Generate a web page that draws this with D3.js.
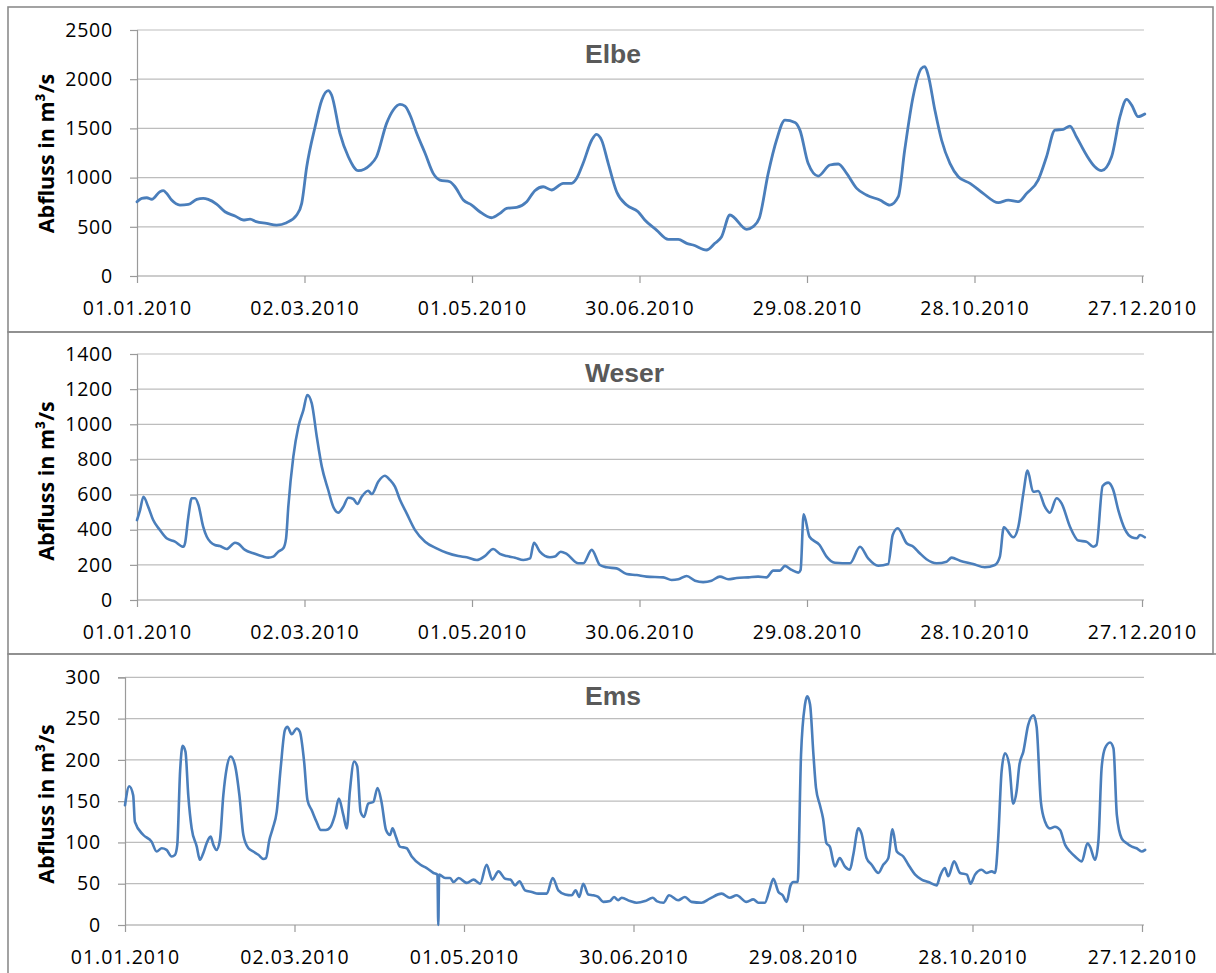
<!DOCTYPE html>
<html><head><meta charset="utf-8">
<script src="https://cdn.jsdelivr.net/npm/d3@7"></script>
<style>
html,body{margin:0;padding:0;background:#fff;}
</style></head>
<body>
<svg id="c" width="1216" height="973"></svg>
<script>
// ---------- DATA (day index from 01.01.2010, discharge in m³/s) ----------
const xTickDays = [0, 60, 120, 180, 240, 300, 360];
const xTickLabels = ["01.01.2010","02.03.2010","01.05.2010","30.06.2010","29.08.2010","28.10.2010","27.12.2010"];
const elbeTicks = [0, 500, 1000, 1500, 2000, 2500];
const weserTicks = [0, 200, 400, 600, 800, 1000, 1200, 1400];
const emsTicks = [0, 50, 100, 150, 200, 250, 300];
const riverNames = ["Elbe", "Weser", "Ems"];
const yAxisTitle = "Abfluss in m³/s";

const elbe = [[0,755],[1.7,790],[3.5,795],[5.3,780],[8.2,857],[9.4,867],[10.6,840],[12.4,772],[15.4,721],[18.4,728],[21.4,779],[23.7,789],[25.5,779],[28.5,731],[31.5,653],[35.1,610],[38.1,569],[40.5,579],[42.7,552],[46.4,535],[50,518],[53.6,542],[57.2,620],[59,738],[60.8,1110],[63.8,1517],[66.2,1788],[68.5,1883],[69.7,1839],[72.7,1450],[75.7,1212],[79.3,1070],[83.5,1128],[85.8,1212],[89.4,1551],[91.8,1687],[94.2,1744],[96,1727],[97.8,1636],[100.2,1450],[103.2,1247],[106.1,1043],[108.5,975],[112.1,958],[113.9,907],[116.9,772],[119.9,721],[122.8,653],[127,592],[130,637],[132.4,688],[136,698],[139.6,755],[142.5,867],[145.5,907],[148.5,874],[152.7,942],[155.7,942],[157.5,993],[159.8,1145],[162.9,1382],[164.6,1440],[166.4,1382],[168.8,1145],[171.8,857],[175.4,721],[179.5,653],[181.9,569],[186.1,467],[190.3,373],[193.9,373],[196.9,332],[199.2,315],[204,264],[207,332],[209.4,399],[212.4,620],[218.4,474],[220.7,501],[222.9,586],[226.1,1043],[229.1,1382],[232.1,1585],[235.7,1561],[237.5,1480],[240.4,1145],[244,1016],[248.2,1128],[251.2,1138],[254.2,1043],[257.8,891],[261.3,823],[266.1,772],[269.7,721],[272.7,806],[275,1280],[278,1822],[281,2110],[282.2,2127],[283.4,2042],[285.8,1687],[288.2,1382],[291.2,1145],[294.2,1009],[298.4,942],[303.1,840],[308.5,745],[312.1,772],[315.7,755],[318.7,840],[322.8,975],[325.8,1212],[328.8,1483],[331.8,1490],[334.2,1524],[336.5,1415],[340.1,1229],[343.1,1110],[345.5,1070],[349.1,1212],[352.1,1619],[354.5,1795],[356.3,1737],[358.6,1619],[361,1646]];

const weser = [[0,455],[1.1,512],[2.3,588],[4,531],[5.8,455],[8.2,398],[10.6,351],[13.6,332],[16.6,303],[17.2,323],[18.4,474],[19.6,579],[20.8,579],[22,541],[23.7,417],[25,360],[27.9,313],[29.7,307],[32.1,290],[35.1,326],[36.3,320],[38.7,285],[41.7,266],[45.2,247],[47,241],[48.8,247],[50.6,275],[52.4,294],[53.4,351],[54.2,531],[56,816],[57.8,986],[59.6,1081],[61,1167],[62.6,1119],[64.4,929],[66.2,759],[68.5,626],[70.3,531],[72.1,497],[73.9,531],[75.7,582],[77.5,575],[78.9,546],[80.5,588],[82.8,622],[84.1,603],[86.4,673],[88.8,707],[90.6,683],[92.4,645],[94.2,570],[96.6,493],[99.6,398],[103.2,332],[107.3,294],[110.9,269],[115.1,250],[118.1,243],[121.7,228],[124.6,250],[127.6,290],[130,262],[132.4,250],[135.4,241],[138.4,228],[140.8,237],[142.2,326],[144.3,275],[147.9,243],[149.7,247],[151.8,275],[153.9,262],[158.1,209],[159.9,209],[162.9,285],[165.8,199],[168.2,186],[171.8,180],[175.4,148],[179,142],[182.5,133],[188.5,129],[191.5,114],[193.9,118],[196.9,137],[199.9,110],[202.8,102],[205.8,110],[208.8,133],[211.8,118],[214.8,125],[219,129],[222.5,133],[225.5,129],[227.9,167],[230.3,167],[232.1,194],[234.5,171],[236.9,156],[237.7,171],[238.8,488],[240.9,360],[244.5,313],[247,247],[250,212],[255.4,209],[259,303],[261.9,237],[265.5,195],[269.1,205],[270.7,370],[272.5,408],[275.7,323],[278.1,303],[280.4,266],[282.8,232],[286.4,209],[290,218],[291.8,241],[294.8,224],[299.5,205],[303.7,186],[307.3,199],[309.1,247],[310.5,414],[313.9,357],[315.7,417],[317.5,607],[319,736],[321,616],[322.8,620],[325.2,531],[327,497],[329.4,579],[331.2,550],[334.2,417],[337.2,338],[340.1,332],[342.5,303],[343.7,313],[345.9,649],[347.9,668],[349.7,626],[351.5,512],[353.9,402],[356.3,357],[358.1,351],[359.3,370],[361,357]];

const ems = [[0,145],[1.5,168],[2.9,157],[3.5,125],[6.5,109],[9.4,101],[11.2,89],[13,93],[14.7,91],[16.5,83],[17.7,85],[18.5,97],[19.5,186],[20.4,217],[21.4,210],[22.4,157],[23.6,117],[25.4,95],[26.5,79],[27.7,87],[28.9,99],[30.3,107],[31.3,97],[32.4,91],[33.6,103],[34.8,157],[36,190],[37.4,204],[38.9,194],[40.5,157],[41.9,109],[43.7,93],[45.4,89],[47.2,85],[49,80],[49.9,81],[51.1,103],[52.3,117],[53.7,137],[55.1,190],[56.6,236],[57.5,240],[59,231],[60.8,238],[61.9,234],[63.4,198],[64.6,151],[66.1,139],[67.8,125],[69.3,115],[71.1,115],[72.8,119],[74.3,133],[75.7,153],[77.3,133],[78.5,117],[79.6,162],[81.1,198],[82.2,192],[83.4,137],[84.6,131],[86.1,147],[87.9,149],[89.4,166],[90.8,149],[92.4,115],[93.8,109],[94.7,117],[95.9,107],[97.3,95],[99.7,93],[101.5,83],[104.6,73],[106.8,69],[109.2,63],[110.6,61],[110.9,0],[111.2,61],[113.3,57],[115.1,57],[116.3,52],[118.1,57],[121,51],[123.4,55],[125.7,50],[128,73],[130,55],[132.2,65],[134.6,56],[136.4,55],[138.1,48],[139.6,53],[141.6,42],[144,40],[146.3,38],[149.3,38],[151.4,57],[153.4,42],[155.8,37],[158.1,36],[159.5,42],[160.8,34],[162.2,50],[164,37],[165.8,36],[167.5,34],[169.3,28],[171.7,29],[173.1,34],[174.6,30],[175.8,33],[178.8,29],[181.1,27],[184.1,29],[186.8,33],[188.2,29],[190.6,27],[192.6,36],[195.8,30],[198.2,34],[200.5,28],[204.1,27],[207,32],[211.2,38],[214.1,33],[216.5,36],[220,28],[222.4,31],[224.2,27],[226.5,27],[228.1,42],[229.5,56],[231.3,40],[232.8,36],[234.2,28],[235.6,48],[236.6,52],[238.1,52],[239.3,206],[240.7,267],[241.5,277],[242.5,267],[243.7,206],[244.6,166],[246,145],[247.1,129],[248.3,99],[249.5,95],[251.3,71],[253,81],[254.8,71],[256.6,67],[257.8,85],[259.6,117],[260.7,111],[262.5,81],[264.3,73],[266.7,63],[268.4,73],[270.2,81],[271.7,116],[273.2,89],[275.5,83],[277.3,73],[279.7,61],[282,55],[284.4,52],[287.3,48],[288.5,59],[290.2,69],[291.4,59],[293.5,77],[295.6,63],[298,61],[299.3,50],[300.9,61],[303.2,67],[305,63],[306.8,65],[308,63],[309.1,105],[310.3,186],[311.5,208],[313,194],[314.4,147],[315.6,162],[316.6,194],[318,210],[319.7,242],[321.6,254],[322.7,240],[324.2,149],[325.7,125],[327.4,117],[329.2,119],[331,115],[332.8,97],[334.5,89],[336.3,83],[338.7,77],[340.7,99],[341.6,95],[343.4,79],[344.6,103],[345.7,190],[346.9,214],[348.7,221],[349.9,214],[351.1,133],[352.8,105],[354.6,99],[356.4,95],[358.1,93],[359.9,89],[361.1,91]];

// ---------- LAYOUT ----------
const panels = [
  {name: riverNames[0], data: elbe,  ticks: elbeTicks,  box:[8,7,1213,332],   left:137, top:30,    bottom:276, titleY:62.5, labelY:153.5, lw:2.8},
  {name: riverNames[1], data: weser, ticks: weserTicks, box:[8,332,1213,654], left:137, top:354,   bottom:600, titleY:382,  labelY:481,   lw:2.6},
  {name: riverNames[2], data: ems,   ticks: emsTicks,   box:[8,654,1230,990], left:125, top:677.3, bottom:925, titleY:705,  labelY:804,   lw:2.6}
];
const xRight = 1142;   // position of the last tick (day 360)
const plotEndDay = 360.7;

const svg = d3.select("#c");
svg.append("rect").attr("width",1216).attr("height",973).attr("fill","#fff");

const tickFont = "'Open Sans', sans-serif";

panels.forEach(p => {
  const g = svg.append("g");
  // panel border
  g.append("rect")
    .attr("x", p.box[0]).attr("y", p.box[1])
    .attr("width", p.box[2]-p.box[0]).attr("height", p.box[3]-p.box[1])
    .attr("fill","none").attr("stroke","#8c8c8c").attr("stroke-width",1.6);

  const x = d3.scaleLinear().domain([0, 360]).range([p.left, xRight]);
  const y = d3.scaleLinear().domain([0, d3.max(p.ticks)]).range([p.bottom, p.top]);
  const xEnd = x(plotEndDay);

  // gridlines
  g.append("g").selectAll("line").data(p.ticks.filter(t => t > 0)).join("line")
    .attr("x1", p.left).attr("x2", xEnd)
    .attr("y1", d => y(d)).attr("y2", d => y(d))
    .attr("stroke","#bdbdbd").attr("stroke-width",1.2);

  // y axis
  const ya = g.append("g").attr("transform", `translate(${p.left},0)`)
    .call(d3.axisLeft(y).tickValues(p.ticks).tickSize(7).tickPadding(17).tickFormat(d3.format("d")));
  ya.select(".domain").attr("stroke","#9a9a9a").attr("stroke-width",1.2);
  ya.selectAll(".tick line").attr("stroke","#9a9a9a").attr("stroke-width",1.2);
  ya.selectAll("text").attr("font-family", tickFont).attr("font-size", 19.5)
    .attr("fill","#000").style("letter-spacing","0.8px");

  // x axis
  const xa = g.append("g").attr("transform", `translate(0,${p.bottom})`)
    .call(d3.axisBottom(x).tickValues(xTickDays).tickSize(7)
      .tickFormat((d,i) => xTickLabels[i]));
  xa.select(".domain").attr("d", `M${p.left},0H${xEnd}`).attr("stroke","#9a9a9a").attr("stroke-width",1.2);
  xa.selectAll(".tick line").attr("stroke","#9a9a9a").attr("stroke-width",1.2);
  xa.selectAll("text").attr("y", 38.5).attr("dy", 0)
    .attr("font-family", tickFont).attr("font-size", 19.5)
    .attr("fill","#000").style("letter-spacing","1px");

  // line
  const line = d3.line().x(d => x(d[0])).y(d => y(d[1])).curve(d3.curveMonotoneX);
  g.append("path").datum(p.data).attr("d", line)
    .attr("fill","none").attr("stroke","#4a7ebb").attr("stroke-width", p.lw)
    .attr("stroke-linejoin","round").attr("stroke-linecap","round");

  // title
  g.append("text").attr("x", 585).attr("y", p.titleY)
    .attr("font-family","'Liberation Sans', Arial, sans-serif").attr("font-weight","bold")
    .attr("font-size", 26.5).attr("fill","#595959").text(p.name);

  // y axis title
  g.append("text").attr("transform", `translate(54,${p.labelY}) rotate(-90)`)
    .attr("text-anchor","middle")
    .attr("font-family","'Open Sans', sans-serif").attr("font-weight","bold")
    .attr("font-size", 21.5).attr("fill","#000").text(yAxisTitle);
});
</script>
</body></html>
